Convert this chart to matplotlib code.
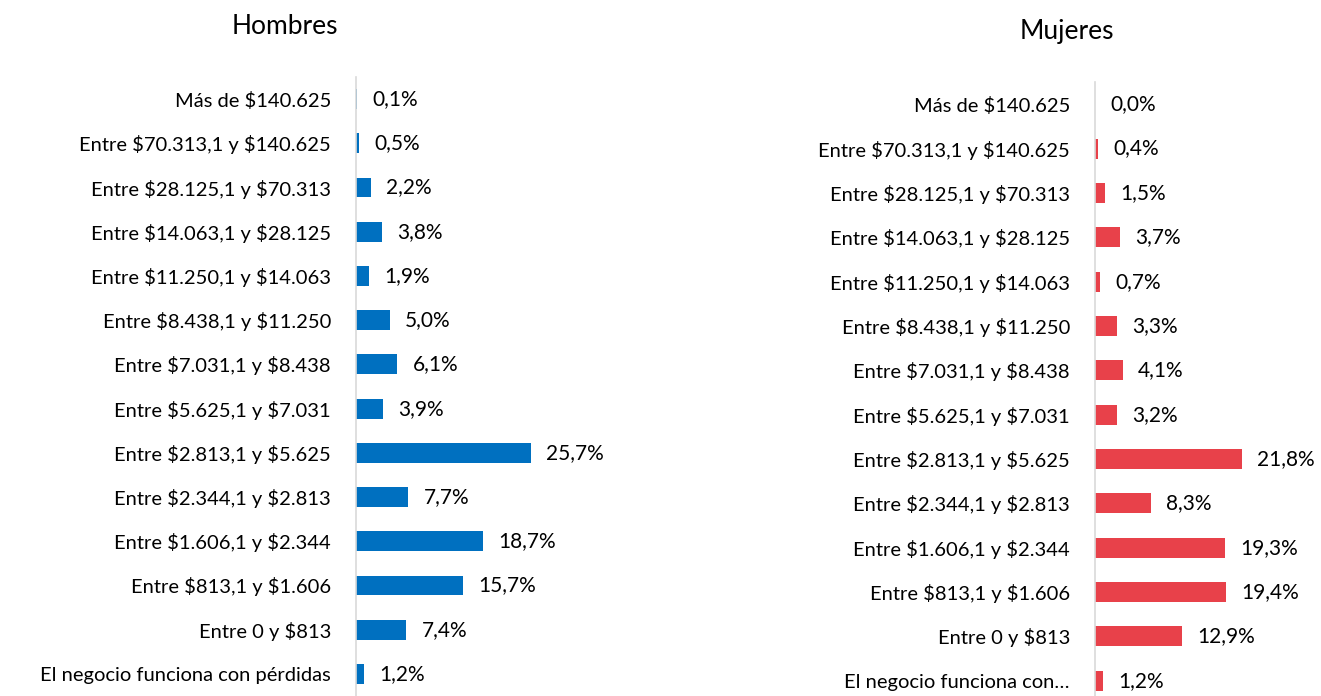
import matplotlib.pyplot as plt

categorias = ["Más de $140.625", "Entre $70.313,1 y $140.625", "Entre $28.125,1 y $70.313",
              "Entre $14.063,1 y $28.125", "Entre $11.250,1 y $14.063", "Entre $8.438,1 y $11.250",
              "Entre $7.031,1 y $8.438", "Entre $5.625,1 y $7.031", "Entre $2.813,1 y $5.625",
              "Entre $2.344,1 y $2.813", "Entre $1.606,1 y $2.344", "Entre $813,1 y $1.606",
              "Entre 0 y $813", "El negocio funciona con pérdidas"]
categorias_muj = categorias[:-1] + ["El negocio funciona con…"]
hombres = [0.1, 0.5, 2.2, 3.8, 1.9, 5.0, 6.1, 3.9, 25.7, 7.7, 18.7, 15.7, 7.4, 1.2]
mujeres = [0.0, 0.4, 1.5, 3.7, 0.7, 3.3, 4.1, 3.2, 21.8, 8.3, 19.3, 19.4, 12.9, 1.2]

plt.rcParams['font.family'] = ['Lato', 'DejaVu Sans']
plt.rcParams['text.parse_math'] = False

fig = plt.figure(figsize=(13.21, 6.96), dpi=100)

def panel(rect, valores, etiquetas, color):
    ax = fig.add_axes(rect)
    pos = list(range(len(valores)))
    ax.barh(pos, valores, height=0.45, color=color)
    ax.set_ylim(len(valores) - 0.5, -0.5)
    ax.set_xlim(0, 30)
    ax.set_yticks(pos)
    ax.set_yticklabels(etiquetas, fontsize=14.5)
    ax.tick_params(axis='y', length=0, pad=18)
    ax.set_xticks([])
    for s in ['top', 'right', 'bottom']:
        ax.spines[s].set_visible(False)
    ax.spines['left'].set_color('#d9d9d9')
    ax.spines['left'].set_linewidth(1.2)
    for p, v in zip(pos, valores):
        ax.annotate(f"{v:.1f}%".replace('.', ','), (v, p), xytext=(11, 0),
                    textcoords='offset points', va='center', ha='left', fontsize=15)
    return ax

panel([356/1321, 0.0, 204/1321, 1 - 77/696], hombres, categorias, '#0070C0')
panel([1095/1321, -0.01, 202/1321, 1 - 82/696 + 0.01], mujeres, categorias_muj, '#E8414A')

fig.text(285/1321, 1 - 27/696, "Hombres", ha='center', va='center', fontsize=19)
fig.text(1067/1321, 1 - 31/696, "Mujeres", ha='center', va='center', fontsize=19)

fig.savefig("out.png", dpi=100)
